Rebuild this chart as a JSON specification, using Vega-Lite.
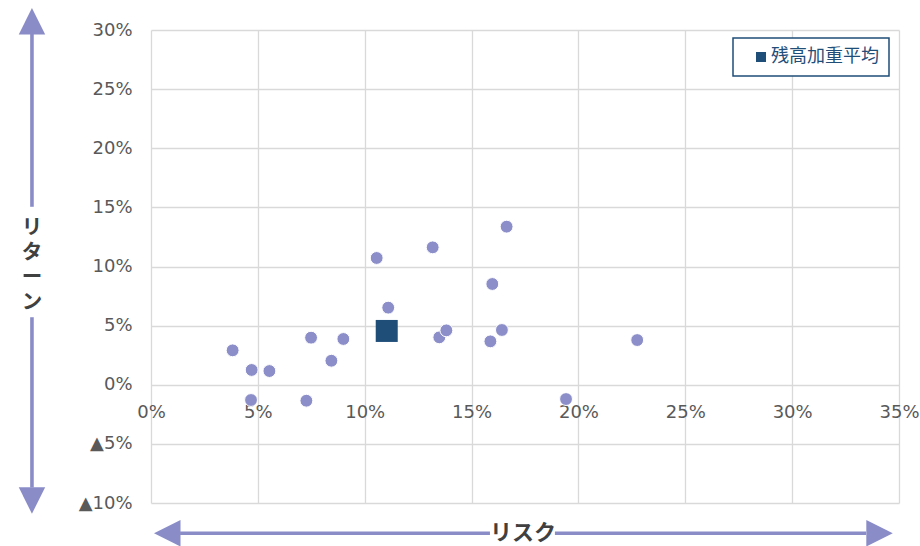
{
  "$schema": "https://vega.github.io/schema/vega-lite/v6.json",
  "width": 748,
  "height": 473,
  "autosize": {"type": "none"},
  "padding": {"left": 151, "top": 30, "right": 21, "bottom": 43},
  "background": "white",
  "datasets": {
    "funds": [
      {"risk": 0.0382, "ret": 0.0291},
      {"risk": 0.0471, "ret": 0.0125},
      {"risk": 0.0554, "ret": 0.0116},
      {"risk": 0.0468, "ret": -0.0129},
      {"risk": 0.0727, "ret": -0.0135},
      {"risk": 0.0749, "ret": 0.0398},
      {"risk": 0.0844, "ret": 0.0203},
      {"risk": 0.0900, "ret": 0.0387},
      {"risk": 0.1056, "ret": 0.1072},
      {"risk": 0.1110, "ret": 0.0652},
      {"risk": 0.1318, "ret": 0.1162},
      {"risk": 0.1349, "ret": 0.0401},
      {"risk": 0.1382, "ret": 0.0460},
      {"risk": 0.1664, "ret": 0.1337},
      {"risk": 0.1597, "ret": 0.0852},
      {"risk": 0.1642, "ret": 0.0463},
      {"risk": 0.1588, "ret": 0.0367},
      {"risk": 0.2275, "ret": 0.0378},
      {"risk": 0.1942, "ret": -0.0121}
    ],
    "average": [
      {"series": "残高加重平均", "risk": 0.1103, "ret": 0.0455}
    ],
    "shafts": [
      {"xa": -0.0557, "xb": -0.0557, "ya": 0.297, "yb": 0.1505},
      {"xa": -0.0557, "xb": -0.0557, "ya": 0.0571, "yb": -0.0869},
      {"xa": 0.0136, "xb": 0.1586, "ya": -0.1256, "yb": -0.1256},
      {"xa": 0.1890, "xb": 0.3346, "ya": -0.1256, "yb": -0.1256}
    ],
    "heads": [
      {"end": "top", "x": -0.0557, "y": 0.3074},
      {"end": "bottom", "x": -0.0557, "y": -0.0979},
      {"end": "left", "x": 0.0076, "y": -0.1256},
      {"end": "right", "x": 0.3409, "y": -0.1256}
    ],
    "vlabel": [
      {"x": -0.0557, "y": 0.1326, "label": ["リ", "タ", "ー", "ン"]}
    ],
    "hlabel": [
      {"x": 0.1741, "y": -0.1256, "label": "リスク"}
    ]
  },
  "config": {
    "view": {"stroke": null},
    "legend": {"strokeWidth": 1.5},
    "axis": {
      "labelFont": "DejaVu Sans",
      "labelFontSize": 18,
      "labelColor": "#595959",
      "gridColor": "#d9d9d9",
      "gridWidth": 1.3,
      "domain": false,
      "ticks": false,
      "tickSize": 0,
      "labelFlush": false,
      "labelOverlap": false,
      "labelBound": false
    }
  },
  "layer": [
    {
      "data": {"name": "shafts"},
      "mark": {"type": "rule", "color": "#8a8cc8", "strokeWidth": 3.6},
      "encoding": {
        "x": {"field": "xa", "type": "quantitative", "title": null, "scale": {"domain": [0, 0.35], "nice": false, "zero": false}},
        "x2": {"field": "xb"},
        "y": {"field": "ya", "type": "quantitative", "title": null, "scale": {"domain": [-0.1, 0.3], "nice": false, "zero": false}},
        "y2": {"field": "yb"}
      }
    },
    {
      "data": {"name": "heads"},
      "mark": {"type": "point", "filled": true, "color": "#8a8cc8", "opacity": 1, "size": 700, "strokeWidth": 0},
      "encoding": {
        "x": {"field": "x", "type": "quantitative", "title": null, "scale": {"domain": [0, 0.35], "nice": false, "zero": false}},
        "y": {"field": "y", "type": "quantitative", "title": null, "scale": {"domain": [-0.1, 0.3], "nice": false, "zero": false}},
        "shape": {
          "field": "end",
          "type": "nominal",
          "legend": null,
          "scale": {
            "domain": ["top", "bottom", "left", "right"],
            "range": ["M0,-1L1,1L-1,1Z", "M0,1L1,-1L-1,-1Z", "M-1,0L1,-1L1,1Z", "M1,0L-1,-1L-1,1Z"]
          }
        }
      }
    },
    {
      "data": {"name": "vlabel"},
      "mark": {"type": "text", "font": "Noto Sans CJK JP", "fontSize": 20.5, "fontWeight": "bold", "color": "#404040", "lineHeight": 25, "baseline": "middle", "align": "center"},
      "encoding": {
        "x": {"field": "x", "type": "quantitative", "title": null, "scale": {"domain": [0, 0.35], "nice": false, "zero": false}},
        "y": {"field": "y", "type": "quantitative", "title": null, "scale": {"domain": [-0.1, 0.3], "nice": false, "zero": false}},
        "text": {"field": "label"}
      }
    },
    {
      "data": {"name": "hlabel"},
      "mark": {"type": "text", "font": "Noto Sans CJK JP", "fontSize": 22, "fontWeight": "bold", "color": "#404040", "baseline": "middle", "align": "center"},
      "encoding": {
        "x": {"field": "x", "type": "quantitative", "title": null, "scale": {"domain": [0, 0.35], "nice": false, "zero": false}},
        "y": {"field": "y", "type": "quantitative", "title": null, "scale": {"domain": [-0.1, 0.3], "nice": false, "zero": false}},
        "text": {"field": "label"}
      }
    },
    {
      "data": {"name": "funds"},
      "mark": {"type": "circle", "size": 165, "color": "#8b8ec8", "opacity": 1, "stroke": "white", "strokeWidth": 1},
      "encoding": {
        "x": {
          "field": "risk", "type": "quantitative", "title": null,
          "scale": {"domain": [0, 0.35], "nice": false, "zero": false},
          "axis": {"values": [0, 0.05, 0.1, 0.15, 0.2, 0.25, 0.3, 0.35], "format": ".0%", "offset": -118.25, "labelPadding": 19, "orient": "bottom"}
        },
        "y": {
          "field": "ret", "type": "quantitative", "title": null,
          "scale": {"domain": [-0.1, 0.3], "nice": false, "zero": false},
          "axis": {
            "values": [-0.1, -0.05, 0, 0.05, 0.1, 0.15, 0.2, 0.25, 0.3],
            "labelExpr": "datum.value < -0.0001 ? '▲' + format(-datum.value, '.0%') : format(datum.value, '.0%')",
            "labelPadding": 19,
            "labelBaseline": "middle"
          }
        }
      }
    },
    {
      "data": {"name": "average"},
      "mark": {"type": "square", "size": 484, "opacity": 1, "filled": true},
      "encoding": {
        "x": {"field": "risk", "type": "quantitative", "title": null, "scale": {"domain": [0, 0.35], "nice": false, "zero": false}},
        "y": {"field": "ret", "type": "quantitative", "title": null, "scale": {"domain": [-0.1, 0.3], "nice": false, "zero": false}},
        "color": {
          "field": "series",
          "type": "nominal",
          "scale": {"range": ["#1f4e79"]},
          "legend": {
            "title": null,
            "orient": "none",
            "legendX": 582,
            "legendY": 8,
            "padding": 10,
            "symbolOffset": 9,
            "strokeColor": "#1f4e79",
            "fillColor": "white",
            "symbolType": "square",
            "symbolSize": 100,
            "symbolStrokeWidth": 0,
            "labelFont": "Noto Sans CJK JP",
            "labelFontSize": 18,
            "labelColor": "#1f4e79",
            "labelOffset": 1,
            "labelLimit": 300
          }
        }
      }
    }
  ]
}
